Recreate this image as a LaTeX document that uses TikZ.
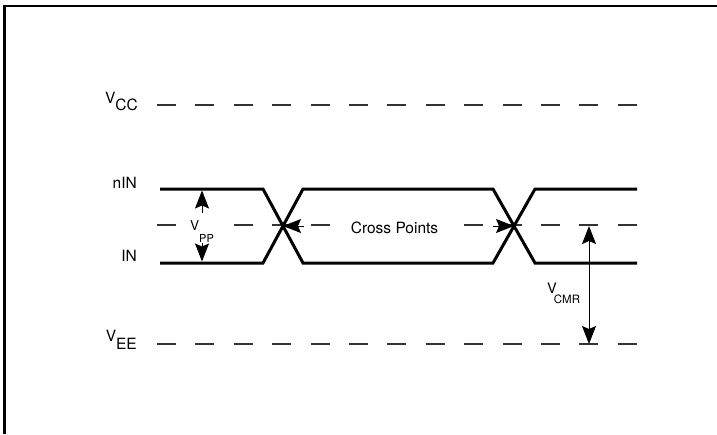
\documentclass[tikz,border=0pt]{standalone}
\usepackage{fontspec}
\setmainfont{TeX Gyre Heros}
\usetikzlibrary{arrows.meta}
\begin{document}
\begin{tikzpicture}[x=1pt,y=-1pt,
  frame/.style={line width=2.5pt},
  rail/.style={line width=1.1pt, black!80, dash pattern=on 19pt off 19.4pt},
  wave/.style={line width=3pt, line join=miter},
  tip/.style={},
  arr/.style={line width=1pt, -{Stealth[length=18pt,width=14pt,inset=3pt]}},
  dblarr/.style={line width=1pt, {Stealth[length=18pt,width=14pt,inset=3pt]}-{Stealth[length=18pt,width=14pt,inset=3pt]}},
  lbl/.style={inner sep=0pt, font=\fontsize{15.5}{16}\selectfont},
]
\useasboundingbox (0,0) rectangle (717,434);
% frame (only top and left edges visible)
\draw[frame] (4.5,434) -- (4.5,6) -- (717,6);

% rails
\coordinate (vccL) at (157,105); \coordinate (vccR) at (637,105);
\coordinate (midL) at (157,225); \coordinate (midR) at (637,225);
\coordinate (veeL) at (157,344); \coordinate (veeR) at (637,344);
\draw[rail] (vccL) -- (vccR);
\draw[rail] (midL) -- (midR);
\draw[rail] (veeL) -- (veeR);

% labels
\node[lbl, anchor=base east] (vcc) at (138,103) {V\raisebox{-7pt}{CC}};
\node[lbl, anchor=base east] (nin) at (137,188) {nIN};
\node[lbl, anchor=base east] (in) at (137,261) {IN};
\node[lbl, anchor=base east] (vee) at (137,341) {V\raisebox{-8pt}{EE}};

% waveforms
\draw[wave] (160,189) -- (263,189) -- (303,263) -- (493,263) -- (535,189) -- (637,189);
\draw[wave] (160,263) -- (263,263) -- (303,189) -- (493,189) -- (535,263) -- (637,263);

% VPP
\node[fill=white, inner sep=0pt, anchor=base west, font=\fontsize{13.5}{13.5}\selectfont] (vpp) at (190,230)
  {V\raisebox{-12pt}{\fontsize{11}{11}\selectfont PP}};
\coordinate (ppT) at (202,190.5); \coordinate (ppTt) at (202,213);
\coordinate (ppB) at (202,261.5); \coordinate (ppBt) at (202,243);
\draw[arr] (ppTt) -- (ppT);
\draw[arr] (ppBt) -- (ppB);

% Cross points
\node[fill=white, inner xsep=8pt, inner ysep=2pt, anchor=base, font=\fontsize{15.5}{16}\selectfont] (cp) at (394.5,233) {Cross Points};
\coordinate (x1) at (283,226); \coordinate (x1t) at (304,226);
\coordinate (x2) at (514,226); \coordinate (x2t) at (493,226);
\draw[arr] (x1t) -- (x1);
\draw[arr] (x2t) -- (x2);

% VCMR
\coordinate (cmrT) at (589,226); \coordinate (cmrB) at (589,344);
\draw[dblarr] (cmrT) -- (cmrB);
\node[inner sep=0pt, anchor=base west, font=\fontsize{14.5}{14.5}\selectfont] (vcmr) at (547,293)
  {V\kern-3pt\raisebox{-10pt}{\fontsize{11.5}{11.5}\selectfont CMR}};
\end{tikzpicture}
\end{document}
